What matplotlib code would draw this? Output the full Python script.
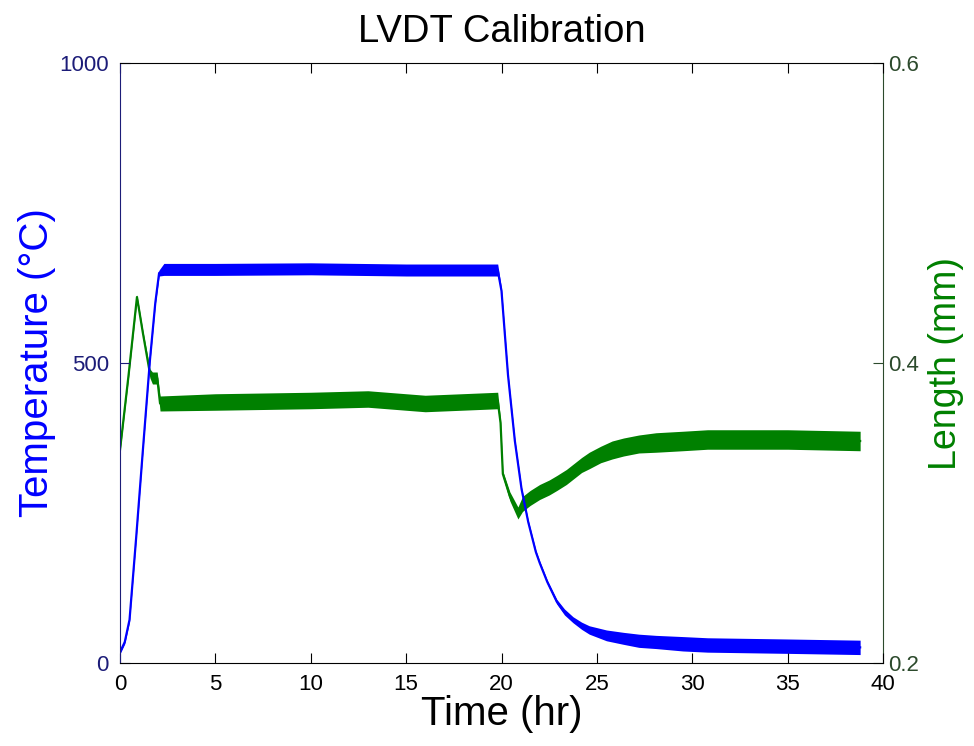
import matplotlib
matplotlib.use("Agg")
import matplotlib.pyplot as plt
import numpy as np

# furnace temperature (deg C) vs time (hr)
temp_t = [0, 0.25, 0.5, 0.85, 1.2, 1.57, 1.85, 2.05, 2.3, 5, 10, 15, 19.8,
          20.0, 20.34, 20.7, 21.05, 21.4, 21.8, 22.0, 22.4, 22.9, 23.3,
          23.75, 24.2, 24.6, 25.5, 26.4, 27.2, 28.1, 29.5, 30.8, 35, 38.8]
temp_v = [18, 35, 72, 210, 355, 505, 600, 650, 656, 656, 657, 655, 655,
          620, 480, 370, 290, 235, 185, 167, 135, 102, 85,
          72, 62, 55, 46, 41, 37, 35, 32, 30, 28, 26]
# half-height of the noisy band around the temperature trace
temp_band = [3, 3, 3, 3, 3, 3, 3, 5, 10, 10, 10, 10, 10,
             4, 3, 3, 3, 3, 3, 3, 3, 4, 5,
             5, 6, 7, 9, 10, 11, 11, 12, 12, 12, 12]

# LVDT length (mm)
len_t = [0, 0.45, 0.89, 1.2, 1.57, 1.7, 1.95, 2.1, 5, 10, 13, 16, 19.8,
         19.95, 20.07, 20.44, 20.86, 21.1, 21.5, 22.0, 22.5, 22.9, 23.4,
         23.8, 24.2, 24.6, 25.2, 25.8, 26.4, 27.2, 28.1, 29.5, 30.8, 35,
         38.8]
len_v = [0.342, 0.392, 0.444, 0.420, 0.393, 0.390, 0.390, 0.373, 0.374,
         0.375, 0.376, 0.373, 0.375, 0.360, 0.326, 0.311, 0.300, 0.306,
         0.310, 0.314, 0.317, 0.320, 0.324, 0.328, 0.332, 0.335, 0.339,
         0.342, 0.344, 0.346, 0.347, 0.348, 0.349, 0.349, 0.348]
len_band = [0.0015, 0.0015, 0.0015, 0.0015, 0.003, 0.004, 0.004, 0.005,
            0.0055, 0.0055, 0.0055, 0.0055, 0.0055, 0.002, 0.002, 0.003,
            0.004, 0.005, 0.005, 0.005, 0.005, 0.005, 0.005, 0.005, 0.005,
            0.0055, 0.0055, 0.006, 0.006, 0.006, 0.0065, 0.0065, 0.0065,
            0.0065, 0.0065]

x_ticks = [0, 5, 10, 15, 20, 25, 30, 35, 40]
temp_ticks = [0, 500, 1000]
len_ticks = [0.2, 0.4, 0.6]

BLUE, GREEN = "#0000ff", "#008000"
BLUE_AX, GREEN_AX = "#1c1c78", "#2c4a2c"

plt.rcParams["font.family"] = ["Liberation Sans", "DejaVu Sans"]

fig = plt.figure(figsize=(9.74, 7.46), dpi=100)
ax1 = fig.add_axes([0.1232, 0.1113, 0.7834, 0.8042])
ax2 = ax1.twinx()

t1 = np.array(temp_t); v1 = np.array(temp_v); b1 = np.array(temp_band)
t2 = np.array(len_t); v2 = np.array(len_v); b2 = np.array(len_band)

ax2.fill_between(t2, v2 - b2, v2 + b2, color=GREEN, lw=0)
ax2.plot(t2, v2, color=GREEN, lw=1.6)
ax1.fill_between(t1, v1 - b1, v1 + b1, color=BLUE, lw=0)
ax1.plot(t1, v1, color=BLUE, lw=1.6)

# blue trace sits on top of the green one
ax1.set_zorder(ax2.get_zorder() + 1)
ax1.patch.set_visible(False)

ax1.set_xlim(0, 40); ax1.set_ylim(0, 1000)
ax2.set_ylim(0.2, 0.6)
ax1.set_xticks(x_ticks); ax1.set_yticks(temp_ticks)
ax2.set_yticks(len_ticks)
ax2.set_yticklabels([f"{v:g}" for v in len_ticks])

ax1.tick_params(axis="x", direction="in", length=7, labelsize=16, pad=8,
                top=True, color="black", labelcolor="black")
ax1.tick_params(axis="y", direction="in", length=7, labelsize=16, pad=8,
                color=BLUE_AX, labelcolor=BLUE_AX)
ax2.tick_params(axis="y", direction="in", length=7, labelsize=16, pad=4,
                color=GREEN_AX, labelcolor=GREEN_AX)

for s in ("top", "bottom"):
    ax1.spines[s].set_color("black")
ax1.spines["left"].set_color(BLUE_AX)
ax1.spines["right"].set_visible(False)
ax2.spines["right"].set_color(GREEN_AX)
for s in ("left", "top", "bottom"):
    ax2.spines[s].set_visible(False)

ax1.set_title("LVDT Calibration", fontsize=27.5, pad=15)
ax1.set_xlabel("Time (hr)", fontsize=29, labelpad=0)
ax1.set_ylabel("Temperature (°C)", fontsize=29, color=BLUE, labelpad=2)
ax2.set_ylabel("Length (mm)", fontsize=27, color=GREEN, labelpad=6)

fig.savefig("out.png", dpi=100, facecolor="white")
